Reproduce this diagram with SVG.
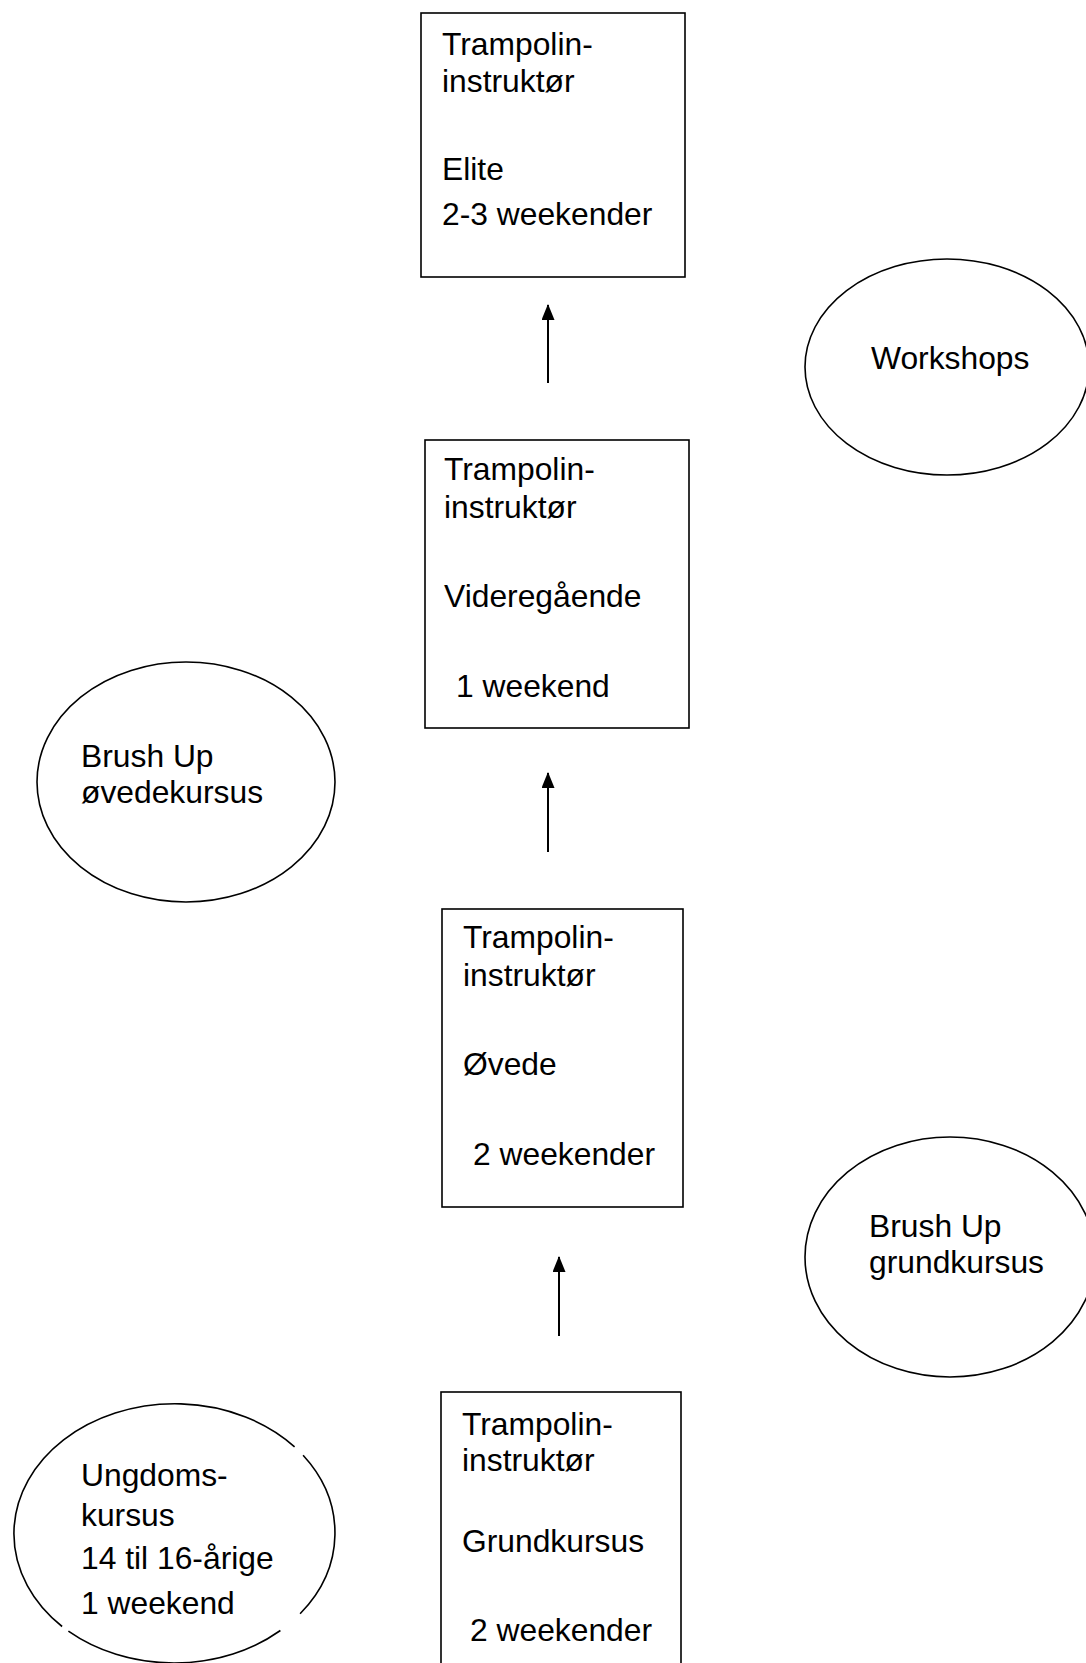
<svg xmlns="http://www.w3.org/2000/svg" width="1086" height="1663" viewBox="0 0 1086 1663">
<defs>
<style>
.box{fill:#fff;stroke:#000;stroke-width:1.6}
.ell{fill:#fff;stroke:#000;stroke-width:1.6}
.t{font-family:"Liberation Sans",Arial,sans-serif;font-size:31.8px;fill:#000}
.con{stroke:#000;stroke-width:2;fill:none}
</style>
<marker id="ah" viewBox="0 0 16 13" refX="15" refY="6.5" markerWidth="16" markerHeight="13" markerUnits="userSpaceOnUse" orient="auto">
<path d="M0,0 L16,6.5 L0,13 Z" fill="#000"/>
</marker>
</defs>
<rect width="1086" height="1663" fill="#fff"/>

<g id="box-elite">
<rect class="box" x="421" y="13" width="264" height="264"/>
<text class="t" x="442" y="55">Trampolin-</text>
<text class="t" x="442" y="92">instruktør</text>
<text class="t" x="442" y="180">Elite</text>
<text class="t" x="442" y="225">2-3 weekender</text>
</g>

<g id="ell-workshops">
<ellipse class="ell" cx="947" cy="367" rx="142" ry="108"/>
<text class="t" x="871" y="369">Workshops</text>
</g>

<g id="box-videregaaende">
<rect class="box" x="425" y="440" width="264" height="288"/>
<text class="t" x="444" y="480">Trampolin-</text>
<text class="t" x="444" y="518">instruktør</text>
<text class="t" x="444" y="607">Videregående</text>
<text class="t" x="456" y="697">1 weekend</text>
</g>

<g id="ell-brushup-oevede">
<ellipse class="ell" cx="186" cy="782" rx="149" ry="120"/>
<text class="t" x="81" y="767">Brush Up</text>
<text class="t" x="81" y="803">øvedekursus</text>
</g>

<g id="box-oevede">
<rect class="box" x="442" y="909" width="241" height="298"/>
<text class="t" x="463" y="948">Trampolin-</text>
<text class="t" x="463" y="986">instruktør</text>
<text class="t" x="463" y="1075">Øvede</text>
<text class="t" x="473" y="1165">2 weekender</text>
</g>

<g id="ell-brushup-grund">
<ellipse class="ell" cx="950" cy="1257" rx="145" ry="120"/>
<text class="t" x="869" y="1237">Brush Up</text>
<text class="t" x="869" y="1273">grundkursus</text>
</g>

<g id="ell-ungdom">
<path class="ell" d="M303.1,1455.3 A161,130 0 0 1 300.1,1613.7"/>
<path class="ell" d="M280.4,1630.5 A161,130 0 0 1 68.4,1631.1"/>
<path class="ell" d="M62.1,1626.5 A161,130 0 1 1 294.6,1446.8"/>
<text class="t" x="81" y="1486">Ungdoms-</text>
<text class="t" x="81" y="1526">kursus</text>
<text class="t" x="81" y="1569">14 til 16-årige</text>
<text class="t" x="81" y="1614">1 weekend</text>
</g>

<g id="box-grund">
<rect class="box" x="441" y="1392" width="240" height="300"/>
<text class="t" x="462" y="1435">Trampolin-</text>
<text class="t" x="462" y="1471">instruktør</text>
<text class="t" x="462" y="1552">Grundkursus</text>
<text class="t" x="470" y="1641">2 weekender</text>
</g>

<g id="connectors">
<line class="con" x1="548" y1="383" x2="548" y2="305" marker-end="url(#ah)"/>
<line class="con" x1="548" y1="852" x2="548" y2="773" marker-end="url(#ah)"/>
<line class="con" x1="559" y1="1336" x2="559" y2="1257" marker-end="url(#ah)"/>
</g>
</svg>
